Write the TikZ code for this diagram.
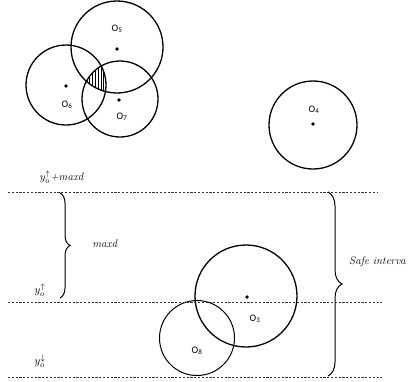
\documentclass[tikz,border=0pt]{standalone}
\usepackage{fontspec}
\newfontfamily\olab{Carlito}
\usetikzlibrary{decorations.pathreplacing}
\tikzset{
  ring/.style={draw, line width=1.3pt},
  thinring/.style={draw, line width=1pt},
  cdot/.style={circle, fill, inner sep=0pt, minimum size=3.6pt},
  olabel/.style={font=\olab\fontsize{10}{11}\selectfont, inner sep=0pt},
  guide/.style={draw=black!80, dashed, dash pattern=on 2.2pt off 1.6pt, line width=0.5pt},
  bracestyle/.style={draw, line width=1pt, decorate, decoration={brace, amplitude=#1}},
  itlabel/.style={font=\fontsize{11}{13}\selectfont, inner sep=0pt}
}
\begin{document}
\begin{tikzpicture}[x=1pt,y=-1pt]
\useasboundingbox (0,0) rectangle (409,381);
% hatched triple intersection
\begin{scope}
  \clip (117,47) circle (46);
  \clip (66,85) circle (40);
  \clip (120,99) circle (38);
  \foreach \xx in {84,86.8,...,110} \draw[line width=0.6pt] (\xx,60) -- (\xx,100);
\end{scope}
% circles
\path[ring] (117,47) circle (46);
\path[ring] (66,85) circle (40);
\path[ring] (120,99) circle (38);
\path[ring] (313,125) circle (44);
\path[ring] (246,296) circle (51);
\path[thinring] (197,338) circle (37.5);
% centres
\node[cdot] (d5) at (117,49) {};
\node[cdot] (d6) at (66,86) {};
\node[cdot] (d7) at (119,100) {};
\node[cdot] (d4) at (313,124) {};
\node[cdot] (d3) at (247,297) {};
% labels
\node[olabel] (l5) at (117,29) {O\textsubscript{5}};
\node[olabel] (l6) at (67,105) {O\textsubscript{6}};
\node[olabel] (l7) at (122,117) {O\textsubscript{7}};
\node[olabel] (l4) at (314,110) {O\textsubscript{4}};
\node[olabel] (l3) at (255,319) {O\textsubscript{3}};
\node[olabel] (l8) at (197,351) {O\textsubscript{8}};
% guide lines
\coordinate (t1) at (8,192);  \coordinate (t2) at (378,192);
\coordinate (m1) at (8,302);  \coordinate (m2) at (382,302);
\coordinate (b1) at (8,377);  \coordinate (b2) at (382,377);
\path[guide] (t1) -- (t2);
\path[guide] (m1) -- (m2);
\path[guide] (b1) -- (b2);
% braces
\coordinate (lb1) at (60,193); \coordinate (lb2) at (60,298);
\coordinate (rb1) at (328,192); \coordinate (rb2) at (328,376);
\path[bracestyle=10pt] (lb1) -- (lb2);
\path[bracestyle=14pt] (rb1) -- (rb2);
% text labels
\node[itlabel] (ymax) at (62,177) {$y_o^{\uparrow}$\textit{+maxd}};
\node[itlabel] (maxd) at (105,244) {\textit{maxd}};
\node[itlabel] (yup) at (40,290) {$y_o^{\uparrow}$};
\node[itlabel] (ydn) at (40,361) {$y_o^{\downarrow}$};
\node[itlabel, anchor=west] (safe) at (349,262) {\textit{Safe interva}};
\end{tikzpicture}
\end{document}
